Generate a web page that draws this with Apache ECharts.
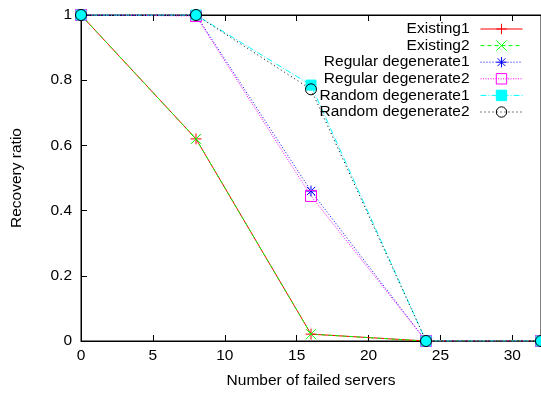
<!DOCTYPE html>
<html>
<head>
<meta charset="utf-8">
<script src="https://cdn.jsdelivr.net/npm/echarts@6/dist/echarts.min.js"></script>
<style>html,body{margin:0;padding:0;background:#fff}#c{width:541px;height:394px}</style>
</head>
<body>
<div id="c"></div>
<script>
var failedServers = [0, 8, 16, 24, 32];
var existing1 = [1, 0.62, 0.021, 0, 0];
var existing2 = [1, 0.62, 0.021, 0, 0];
var regularDegenerate1 = [1, 1, 0.46, 0, 0];
var regularDegenerate2 = [1, 0.997, 0.445, 0, 0];
var randomDegenerate1 = [1, 1, 0.785, 0, 0];
var randomDegenerate2 = [1, 1, 0.772, 0, 0];
var seriesNames = ['Existing1', 'Existing2', 'Regular degenerate1', 'Regular degenerate2', 'Random degenerate1', 'Random degenerate2'];

function pts(vals) { return failedServers.map(function (x, i) { return [x, vals[i]]; }); }

var FONT = 'Liberation Sans';
var FS = 15.5;
var plus = 'path://M0,-1L0,1M-1,0L1,0';
var cross = 'path://M-1,-1L1,1M-1,1L1,-1';
var star = 'path://M0,-1L0,1M-1,0L1,0M-0.75,-0.75L0.75,0.75M-0.75,0.75L0.75,-0.75';
var sq = 'path://M-1,-1L1,-1L1,1L-1,1Z';

var styles = [
  {data: existing1, color: '#ff0000', type: 'solid', symbol: plus, size: 11, fill: '#ff0000'},
  {data: existing2, color: '#00ff00', type: [4, 3], symbol: cross, size: 10, fill: '#00ff00'},
  {data: regularDegenerate1, color: '#0000ff', type: [1, 2], symbol: star, size: 11, fill: '#0000ff'},
  {data: regularDegenerate2, color: '#ff00ff', type: [1, 1.5], symbol: sq, size: 11, fill: 'rgba(0,0,0,0)'},
  {data: randomDegenerate1, color: '#00ffff', type: [6, 2, 1, 2], symbol: sq, size: 10, fill: '#00ffff'},
  {data: randomDegenerate2, color: '#000000', type: [1, 3], symbol: 'circle', size: 11, fill: 'rgba(0,0,0,0)'}
];

var series = styles.map(function (s, i) {
  return {
    name: seriesNames[i],
    type: 'line',
    data: pts(s.data),
    symbol: s.symbol,
    symbolSize: s.size,
    showAllSymbol: true,
    lineStyle: {color: s.color, width: 1, type: s.type},
    itemStyle: {color: s.fill, borderColor: s.color, borderWidth: 1},
    emphasis: {disabled: true}
  };
});

var chart = echarts.init(document.getElementById('c'));
chart.setOption({
  animation: false,
  backgroundColor: '#fff',
  grid: {left: 81, right: 0, top: 15, bottom: 51, show: true, borderColor: '#000', borderWidth: 1},
  legend: {
    orient: 'vertical',
    right: 13,
    top: 16,
    align: 'right',
    itemWidth: 42,
    itemHeight: 13,
    itemGap: 0.6,
    data: seriesNames,
    lineStyle: {width: 1},
    itemStyle: {borderWidth: 1},
    formatter: function (n) { return '{a|' + n + '}'; },
    textStyle: {
      fontFamily: FONT, fontSize: FS, color: '#000', lineHeight: 15,
      rich: {a: {width: 170, align: 'right', fontFamily: FONT, fontSize: FS, lineHeight: 15, padding: [0, 6, 0, 0]}}
    }
  },
  xAxis: [{
    type: 'value', min: 0, max: 32, interval: 5,
    name: 'Number of failed servers', nameLocation: 'middle', nameGap: 32,
    nameTextStyle: {fontFamily: FONT, fontSize: FS, color: '#000'},
    axisLine: {show: true, lineStyle: {color: '#000', width: 1}},
    axisTick: {show: true, inside: true, length: 6, lineStyle: {color: '#000'}},
    axisLabel: {fontFamily: FONT, fontSize: FS, color: '#000', margin: 7, showMaxLabel: false},
    splitLine: {show: false}
  }, {
    type: 'value', min: 0, max: 32, interval: 5, position: 'top',
    axisLine: {show: true, lineStyle: {color: '#000', width: 1}},
    axisTick: {show: true, inside: true, length: 6, lineStyle: {color: '#000'}},
    axisLabel: {show: false},
    splitLine: {show: false}
  }],
  yAxis: [{
    type: 'value', min: 0, max: 1, interval: 0.2,
    name: 'Recovery ratio', nameLocation: 'middle', nameGap: 56,
    nameTextStyle: {fontFamily: FONT, fontSize: FS, color: '#000'},
    axisLine: {show: true, lineStyle: {color: '#000', width: 1}},
    axisTick: {show: true, inside: true, length: 6, lineStyle: {color: '#000'}},
    axisLabel: {fontFamily: FONT, fontSize: FS, color: '#000', margin: 9},
    splitLine: {show: false}
  }],
  series: series
});
</script>
</body>
</html>
